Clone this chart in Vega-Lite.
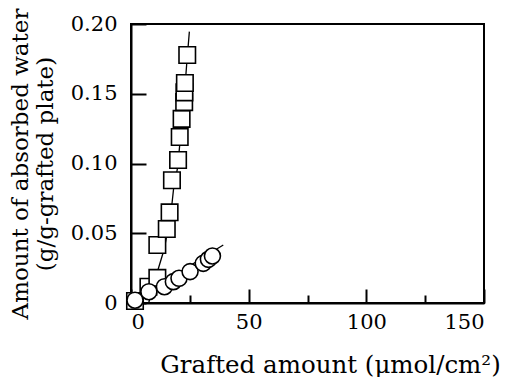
{
  "$schema": "https://vega.github.io/schema/vega-lite/v6.json",
  "width": 353,
  "height": 279,
  "autosize": "none",
  "padding": {"left": 131, "top": 24, "right": 26, "bottom": 74},
  "background": "white",
  "config": {
    "view": {"stroke": "black", "strokeWidth": 2},
    "font": "DejaVu Serif",
    "axis": {
      "grid": false,
      "domainColor": "black",
      "domainWidth": 2,
      "tickColor": "black",
      "tickWidth": 2,
      "labelColor": "black",
      "titleColor": "black",
      "labelFont": "DejaVu Serif",
      "titleFont": "DejaVu Serif",
      "labelFontSize": 21,
      "titleFontWeight": "normal"
    }
  },
  "layer": [
    {
      "data": {"values": [
        {"x": 7.5, "y": 0}, {"x": 11.5, "y": 0.024}, {"x": 14, "y": 0.038}, {"x": 16, "y": 0.055},
        {"x": 17.4, "y": 0.071}, {"x": 18.1, "y": 0.082}, {"x": 19.8, "y": 0.097}, {"x": 20.8, "y": 0.115},
        {"x": 21.8, "y": 0.133}, {"x": 22.8, "y": 0.152}, {"x": 23.7, "y": 0.172}, {"x": 24.8, "y": 0.1945}
      ]},
      "mark": {"type": "line", "color": "black", "strokeWidth": 1.3},
      "encoding": {
        "x": {"field": "x", "type": "quantitative", "scale": {"domain": [0, 150], "nice": false},
          "axis": {
            "title": "Grafted amount (μmol/cm²)",
            "titleFontSize": 24.5,
            "values": [0, 25, 50, 75, 100, 125, 150],
            "labelExpr": "datum.value % 50 == 0 ? datum.label : ''",
            "tickSize": {"condition": {"test": "datum.value % 50 == 0", "value": -14}, "value": -8},
            "labelPadding": 22,
            "labelDx": 5,
            "titleX": 199,
            "titleY": 69,
            "titleBaseline": "alphabetic"
          }},
        "y": {"field": "y", "type": "quantitative", "scale": {"domain": [0, 0.2], "nice": false},
          "axis": {
            "title": ["Amount of absorbed water", "(g/g-grafted plate)"],
            "titleFontSize": 23,
            "values": [0, 0.025, 0.05, 0.075, 0.1, 0.125, 0.15, 0.175, 0.2],
            "labelExpr": "round(datum.value*1000) % 50 != 0 ? '' : (datum.value == 0 ? '0' : format(datum.value, '.2f'))",
            "tickSize": {"condition": {"test": "round(datum.value*1000) % 50 == 0", "value": -15}, "value": -9},
            "labelPadding": 29,
            "titlePadding": 13,
            "titleLineHeight": 25
          }}
      }
    },
    {
      "data": {"values": [{"x": 0, "y": 0.0005}, {"x": 39.2, "y": 0.0416}]},
      "mark": {"type": "line", "color": "black", "strokeWidth": 1.3},
      "encoding": {
        "x": {"field": "x", "type": "quantitative"},
        "y": {"field": "y", "type": "quantitative"}
      }
    },
    {
      "data": {"values": [
        {"x": 1.7, "y": 0.0014}, {"x": 7.4, "y": 0.0117}, {"x": 11.2, "y": 0.018}, {"x": 11.2, "y": 0.0416},
        {"x": 15.2, "y": 0.053}, {"x": 16.4, "y": 0.065}, {"x": 17.4, "y": 0.088}, {"x": 20.0, "y": 0.1025},
        {"x": 20.7, "y": 0.119}, {"x": 21.5, "y": 0.132}, {"x": 22.6, "y": 0.144}, {"x": 22.7, "y": 0.151},
        {"x": 22.9, "y": 0.1577}, {"x": 23.9, "y": 0.1778}
      ]},
      "mark": {"type": "point", "shape": "square", "filled": true, "fill": "white", "stroke": "black", "strokeWidth": 1.6, "size": 272, "opacity": 1},
      "encoding": {
        "x": {"field": "x", "type": "quantitative"},
        "y": {"field": "y", "type": "quantitative"}
      }
    },
    {
      "data": {"values": [
        {"x": 1.7, "y": 0.002}, {"x": 7.6, "y": 0.0081}, {"x": 14.2, "y": 0.0117}, {"x": 18.0, "y": 0.0153},
        {"x": 20.4, "y": 0.0177}, {"x": 25.1, "y": 0.0225}, {"x": 30.7, "y": 0.0284}, {"x": 32.9, "y": 0.0313},
        {"x": 34.6, "y": 0.0337}
      ]},
      "mark": {"type": "point", "shape": "circle", "filled": true, "fill": "white", "stroke": "black", "strokeWidth": 1.6, "size": 256, "opacity": 1},
      "encoding": {
        "x": {"field": "x", "type": "quantitative"},
        "y": {"field": "y", "type": "quantitative"}
      }
    }
  ]
}
